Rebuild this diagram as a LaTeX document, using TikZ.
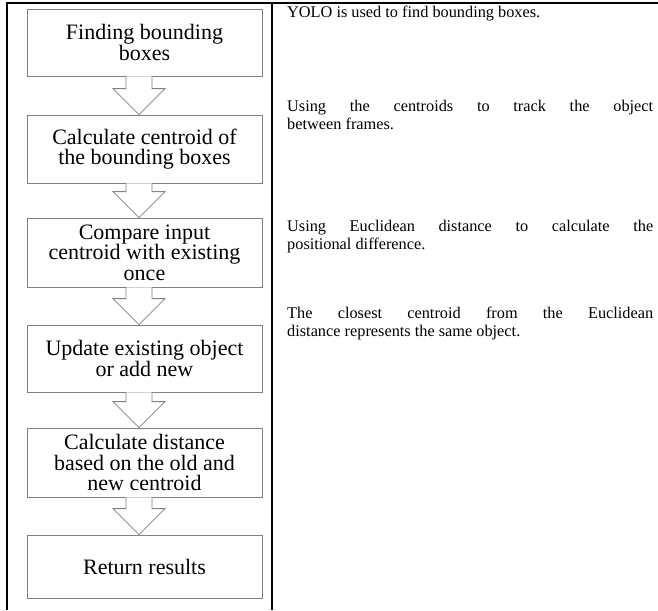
\documentclass[tikz,border=0pt]{standalone}
\usepackage{fontspec}
\setmainfont{Liberation Serif}
\usetikzlibrary{calc}
\tikzstyle{procbox}=[draw=gray,line width=0.8pt,minimum width=235pt,inner sep=0pt,align=center,font=\fontsize{22}{20.5}\selectfont]
\tikzstyle{arrowline}=[draw=gray,line width=0.8pt,fill=white]
\tikzstyle{frameline}=[draw,line width=2pt]
\tikzstyle{note}=[text width=366pt,align=justify,inner sep=0pt,anchor=north west,font=\fontsize{16.3}{17.8}\selectfont]

% hollow block arrow from the bottom of one box to the top of the next
\newcommand{\flowarrow}[2]{%
  \path[arrowline] let \p1=(#1.south), \p2=(#2.north) in
    (\x1-18.5pt,\y1) -- (\x1-18.5pt,\y2+26pt) -- (\x1-31.5pt,\y2+26pt) -- (\x1-5.5pt,\y2)
    -- (\x1+20.5pt,\y2+26pt) -- (\x1+7.5pt,\y2+26pt) -- (\x1+7.5pt,\y1);
}

\begin{document}
\begin{tikzpicture}[x=1pt,y=1pt]
      \useasboundingbox (0,0) rectangle (658,-610);

      % table frame
      \path[frameline] (7,-610) -- (7,-3) -- (658,-3);
      \path[frameline] (272,-3) -- (272,-610);

      % flow chart
      \node[procbox,minimum height=67pt] (find) at (144.5,-42.5) {Finding bounding\\boxes};
      \node[procbox,minimum height=68pt] (centroid) at (144.5,-149) {Calculate centroid of\\the bounding boxes};
      \node[procbox,minimum height=69pt] (compare) at (144.5,-252.5) {Compare input\\centroid with existing\\once};
      \node[procbox,minimum height=67pt] (update) at (144.5,-358.5) {Update existing object\\or add new};
      \node[procbox,minimum height=69pt] (dist) at (144.5,-462.5) {Calculate distance\\based on the old and\\new centroid};
      \node[procbox,minimum height=63pt] (result) at (144.5,-566.5) {Return results};

      \foreach \a/\b in {find/centroid,centroid/compare,compare/update,update/dist,dist/result}{
        \flowarrow{\a}{\b}
      }

      % explanations
      \node[note] (yolo) at (287,-6) {YOLO is used to find bounding boxes.};
      \node[note] (track) at (287,-100) {Using the centroids to track the object\linebreak between frames.};
      \node[note] (euclid) at (287,-220) {Using Euclidean distance to calculate the\linebreak positional difference.};
      \node[note] (closest) at (287,-307) {The closest centroid from the Euclidean\linebreak distance represents the same object.};

    \end{tikzpicture}
\end{document}
